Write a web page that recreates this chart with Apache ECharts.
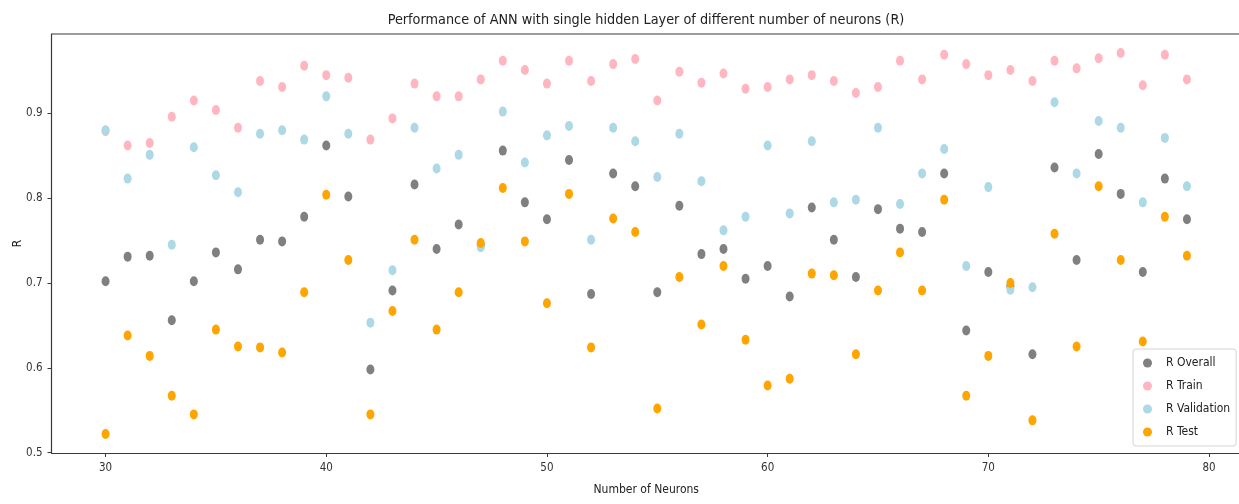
<!DOCTYPE html>
<html>
<head>
<meta charset="utf-8">
<script src="https://cdn.jsdelivr.net/npm/echarts@6/dist/echarts.min.js"></script>
<style>
  html, body { margin: 0; padding: 0; background: #fff; }
  #chart { width: 1239px; height: 504px; }
</style>
</head>
<body>
<div id="chart"></div>
<script>
// Number of neurons in the single hidden layer
const neurons = [30,31,32,33,34,35,36,37,38,39,40,41,42,43,44,45,46,47,48,49,50,51,52,53,54,55,56,57,58,59,60,61,62,63,64,65,66,67,68,69,70,71,72,73,74,75,76,77,78,79];

// Correlation coefficient R per data split
const rOverall = [0.702,0.731,0.732,0.656,0.702,0.736,0.716,0.751,0.749,0.778,0.862,0.802,0.598,0.691,0.816,0.740,0.769,0.745,0.856,0.795,0.775,0.845,0.687,0.829,0.814,0.689,0.791,0.734,0.740,0.705,0.720,0.684,0.789,0.751,0.707,0.787,0.764,0.760,0.829,0.644,0.713,0.696,0.616,0.836,0.727,0.852,0.805,0.713,0.823,0.775];
const rTrain = [0.879,0.862,0.865,0.896,0.915,0.904,0.883,0.938,0.931,0.956,0.945,0.942,0.869,0.894,0.935,0.920,0.920,0.940,0.962,0.951,0.935,0.962,0.938,0.958,0.964,0.915,0.949,0.936,0.947,0.929,0.931,0.940,0.945,0.938,0.924,0.931,0.962,0.940,0.969,0.958,0.945,0.951,0.938,0.962,0.953,0.965,0.971,0.933,0.969,0.940];
const rValidation = [0.880,0.823,0.851,0.745,0.860,0.827,0.807,0.876,0.880,0.869,0.920,0.876,0.653,0.715,0.883,0.835,0.851,0.742,0.902,0.842,0.874,0.885,0.751,0.883,0.867,0.825,0.876,0.820,0.762,0.778,0.862,0.782,0.867,0.795,0.798,0.883,0.793,0.829,0.858,0.720,0.813,0.692,0.695,0.913,0.829,0.891,0.883,0.795,0.871,0.814];
const rTest = [0.522,0.638,0.614,0.567,0.545,0.645,0.625,0.624,0.618,0.689,0.804,0.727,0.545,0.667,0.751,0.645,0.689,0.747,0.812,0.749,0.676,0.805,0.624,0.776,0.760,0.552,0.707,0.651,0.720,0.633,0.579,0.587,0.711,0.709,0.616,0.691,0.736,0.691,0.798,0.567,0.614,0.700,0.538,0.758,0.625,0.814,0.727,0.631,0.778,0.732];

const xTicks = [30, 40, 50, 60, 70, 80];
const yTicks = [0.5, 0.6, 0.7, 0.8, 0.9];

const FONT = "'DejaVu Sans Condensed', 'DejaVu Sans', sans-serif";
const AXIS_COLOR = '#3a3a3a';

function pairs(ys) {
  return neurons.map((n, i) => [n, ys[i]]);
}

function scatter(name, ys, color) {
  return {
    name: name,
    type: 'scatter',
    data: pairs(ys),
    symbol: 'circle',
    symbolSize: [8, 10],
    itemStyle: { color: color, opacity: 1 },
    emphasis: { disabled: true },
    animation: false
  };
}

const chart = echarts.init(document.getElementById('chart'), null, { renderer: 'canvas' });

chart.setOption({
  backgroundColor: '#ffffff',
  animation: false,
  title: {
    text: 'Performance of ANN with single hidden Layer of different number of neurons (R)',
    left: 641,
    textAlign: 'center',
    top: 8,
    textStyle: { fontFamily: FONT, fontSize: 14.3, fontWeight: 'normal', color: '#222' }
  },
  grid: { left: 51.5, top: 34, width: 1189.5, height: 419, containLabel: false, outerBoundsMode: 'none' },
  xAxis: {
    type: 'value',
    min: 27.55,
    max: 81.45,
    name: 'Number of Neurons',
    nameLocation: 'middle',
    nameGap: 31,
    nameMoveOverlap: false,
    nameTextStyle: { fontFamily: FONT, fontSize: 12, color: '#222' },
    splitLine: { show: false },
    axisLine: { show: true, onZero: false, lineStyle: { color: AXIS_COLOR, width: 1.2 } },
    axisTick: { show: true, length: 4, customValues: xTicks, lineStyle: { color: AXIS_COLOR } },
    axisLabel: { customValues: xTicks, margin: 9, fontFamily: FONT, fontSize: 11.5, color: '#333' }
  },
  yAxis: {
    type: 'value',
    min: 0.4995,
    max: 0.9935,
    name: 'R',
    nameLocation: 'middle',
    nameGap: 28,
    nameRotate: 90,
    nameMoveOverlap: false,
    nameTextStyle: { fontFamily: FONT, fontSize: 12, color: '#222' },
    splitLine: { show: false },
    axisLine: { show: true, onZero: false, lineStyle: { color: AXIS_COLOR, width: 1.2 } },
    axisTick: { show: true, length: 4, customValues: yTicks, lineStyle: { color: AXIS_COLOR } },
    axisLabel: {
      customValues: yTicks, margin: 9, fontFamily: FONT, fontSize: 11.5, color: '#333',
      formatter: v => v.toFixed(1)
    }
  },
  // top spine of the axes frame
  graphic: [{
    type: 'line',
    shape: { x1: 51.5, y1: 34, x2: 1241, y2: 34 },
    style: { stroke: AXIS_COLOR, lineWidth: 1.2 },
    silent: true
  }],
  legend: {
    orient: 'vertical',
    left: 1133,
    top: 349,
    padding: [7, 6, 7, 10],
    itemGap: 9,
    itemWidth: 9,
    itemHeight: 10,
    backgroundColor: '#ffffff',
    borderColor: '#d4d4d4',
    borderWidth: 1,
    borderRadius: 3,
    textStyle: { fontFamily: FONT, fontSize: 12, color: '#222', lineHeight: 14, padding: [0, 0, 0, 9] },
    data: ['R Overall', 'R Train', 'R Validation', 'R Test']
  },
  series: [
    scatter('R Overall', rOverall, '#808080'),
    scatter('R Train', rTrain, '#ffb6c1'),
    scatter('R Validation', rValidation, '#add8e6'),
    scatter('R Test', rTest, '#ffa500')
  ]
});
</script>
</body>
</html>
